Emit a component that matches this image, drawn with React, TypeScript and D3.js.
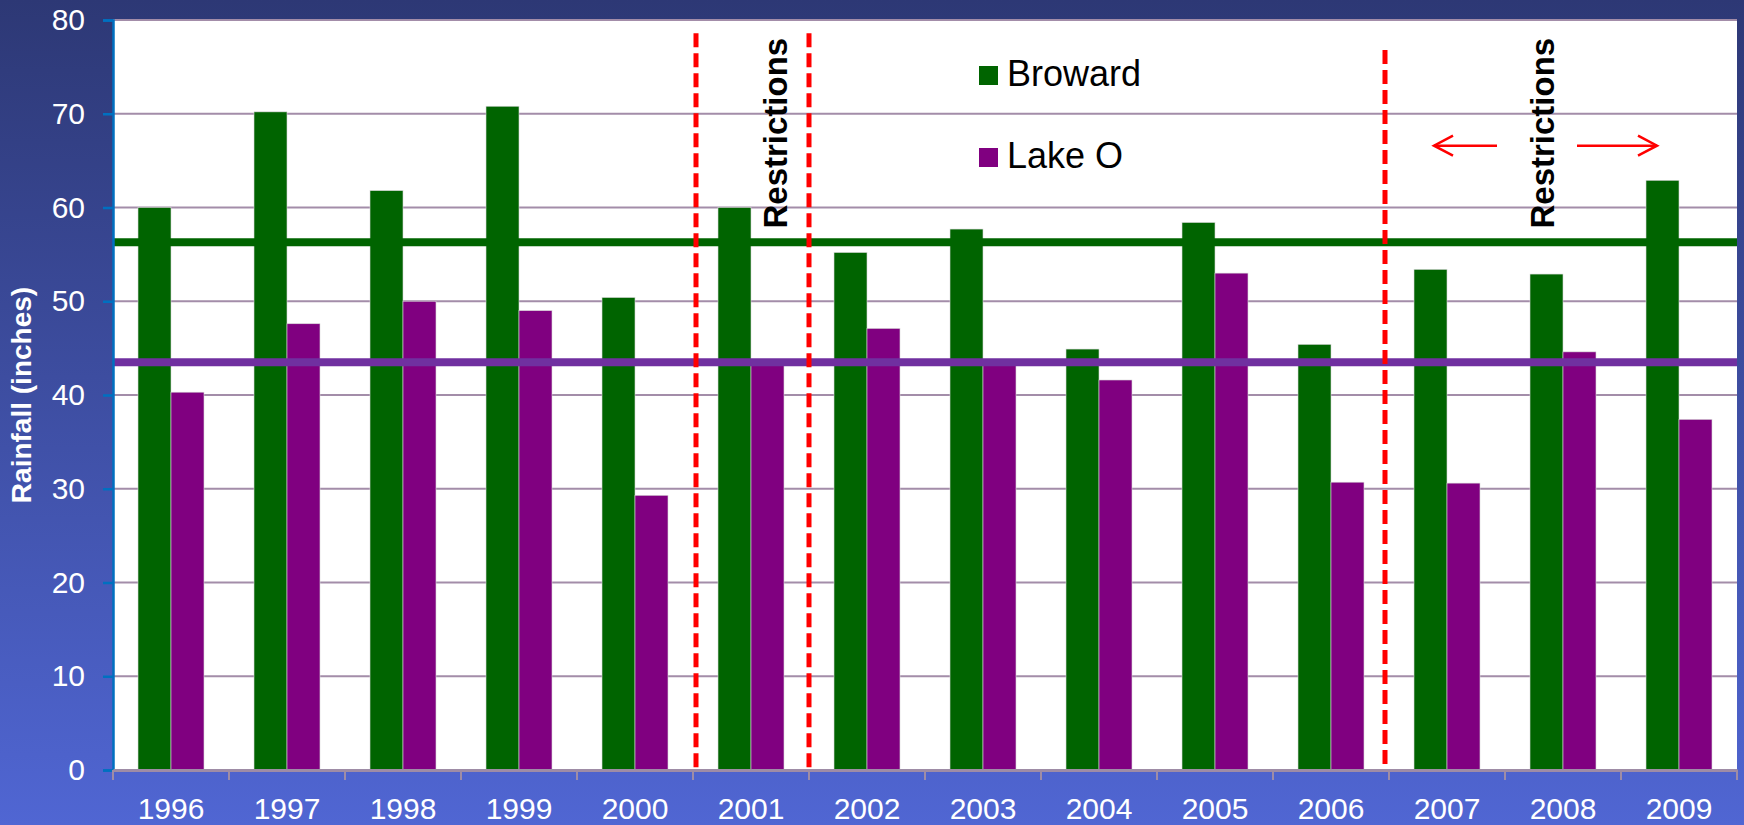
import React, { useEffect, useRef } from 'react';
import * as d3 from 'd3';

const years = ['1996', '1997', '1998', '1999', '2000', '2001', '2002', '2003', '2004', '2005', '2006', '2007', '2008', '2009'];
const broward = [60.0, 70.2, 61.8, 70.8, 50.4, 60.0, 55.2, 57.7, 44.9, 58.4, 45.4, 53.4, 52.9, 62.9];
const lakeO = [40.3, 47.6, 50.0, 49.0, 29.3, 43.8, 47.1, 43.6, 41.6, 53.0, 30.7, 30.6, 44.6, 37.4];
const averages = { broward: 56.3, lakeO: 43.5 };
const yTicks = [0, 10, 20, 30, 40, 50, 60, 70, 80];
// restriction boundaries sit at the start of these years
const restrictionStarts = ['2001', '2002', '2007'];

const seriesNames = ['Broward', 'Lake O'];
const colors: Record<string, string> = { Broward: '#006400', 'Lake O': '#800080' };

const App: React.FC = () => {
  const ref = useRef<SVGSVGElement | null>(null);

  useEffect(() => {
    const svg = d3.select(ref.current);
    svg.selectAll('*').remove();

    const W = 1744;
    const H = 825;
    const margin = { top: 20, right: 7, bottom: 55, left: 113 };
    const width = W - margin.left - margin.right;
    const height = H - margin.top - margin.bottom;
    const font = "'Liberation Sans', Arial, sans-serif";

    // background gradient
    const defs = svg.append('defs');
    const grad = defs
      .append('linearGradient')
      .attr('id', 'bg')
      .attr('x1', 0)
      .attr('y1', 0)
      .attr('x2', 0)
      .attr('y2', 1);
    grad.append('stop').attr('offset', '0%').attr('stop-color', '#2D3875');
    grad.append('stop').attr('offset', '100%').attr('stop-color', '#5066D3');
    svg.append('rect').attr('width', W).attr('height', H).attr('fill', 'url(#bg)');

    const g = svg.append('g').attr('transform', `translate(${margin.left},${margin.top})`);

    const x0 = d3.scaleBand().domain(years).range([0, width]).padding(0);
    const x1 = d3
      .scaleBand()
      .domain(seriesNames)
      .range([0, x0.bandwidth()])
      .paddingInner(0)
      .paddingOuter(0.758);
    const y = d3.scaleLinear().domain([0, 80]).range([height, 0]);

    // plot area
    g.append('rect').attr('width', width).attr('height', height).attr('fill', '#ffffff');

    // grid lines
    g.selectAll('.grid')
      .data(yTicks.filter((t) => t > 0))
      .enter()
      .append('line')
      .attr('x1', 0)
      .attr('x2', width)
      .attr('y1', (d) => y(d))
      .attr('y2', (d) => y(d))
      .attr('stroke', '#A38DA9')
      .attr('stroke-width', 2);

    // bars
    const rows = years.map((yr, i) => ({ year: yr, Broward: broward[i], 'Lake O': lakeO[i] }));
    const groups = g
      .selectAll('.grp')
      .data(rows)
      .enter()
      .append('g')
      .attr('transform', (d) => `translate(${x0(d.year)},0)`);
    groups
      .selectAll('rect')
      .data((d) => seriesNames.map((k) => ({ key: k, value: (d as any)[k] as number })))
      .enter()
      .append('rect')
      .attr('x', (d) => x1(d.key)!)
      .attr('y', (d) => y(d.value))
      .attr('width', x1.bandwidth())
      .attr('height', (d) => height - y(d.value))
      .attr('fill', (d) => colors[d.key])
      .attr('stroke', '#d8d8d8')
      .attr('stroke-width', 0.6);

    // average lines
    g.append('line')
      .attr('x1', 0)
      .attr('x2', width)
      .attr('y1', y(averages.broward))
      .attr('y2', y(averages.broward))
      .attr('stroke', '#006400')
      .attr('stroke-width', 8);
    g.append('line')
      .attr('x1', 0)
      .attr('x2', width)
      .attr('y1', y(averages.lakeO))
      .attr('y2', y(averages.lakeO))
      .attr('stroke', '#7030A0')
      .attr('stroke-width', 8);

    // restriction dashed lines
    const tops = [78.6, 78.6, 76.8];
    restrictionStarts.forEach((yr, i) => {
      const xx = x0(yr)! + (i === 0 ? 3 : i === 2 ? -4 : 0);
      g.append('line')
        .attr('x1', xx)
        .attr('x2', xx)
        .attr('y1', y(tops[i]))
        .attr('y2', height)
        .attr('stroke', '#FF0000')
        .attr('stroke-width', 5)
        .attr('stroke-dasharray', '14,6');
    });

    // Restrictions labels
    const label = (xx: number) =>
      g
        .append('text')
        .attr('transform', `translate(${xx},${y(78.1)}) rotate(-90)`)
        .attr('text-anchor', 'end')
        .attr('font-family', font)
        .attr('font-weight', 'bold')
        .attr('font-size', 33)
        .attr('fill', '#000')
        .text('Restrictions');
    label(x0('2001')! + 94);
    label(x0('2008')! + 49);

    // arrows
    const arrowY = y(66.6);
    const arrow = (from: number, to: number) => {
      const dir = to > from ? 1 : -1;
      g.append('line')
        .attr('x1', from)
        .attr('x2', to)
        .attr('y1', arrowY)
        .attr('y2', arrowY)
        .attr('stroke', '#FF0000')
        .attr('stroke-width', 2.5);
      g.append('path')
        .attr('d', `M${to - dir * 19},${arrowY - 10} L${to},${arrowY} L${to - dir * 19},${arrowY + 10}`)
        .attr('fill', 'none')
        .attr('stroke', '#FF0000')
        .attr('stroke-width', 2.5);
    };
    arrow(x0('2007')! + 108, x0('2007')! + 45);
    arrow(x0('2008')! + 72, x0('2008')! + 152);

    // legend
    const legend = g.append('g').attr('transform', `translate(${x0('2003')! + 54},${46})`);
    seriesNames.forEach((name, i) => {
      const row = legend.append('g').attr('transform', `translate(0,${i * 82})`);
      row.append('rect').attr('width', 19).attr('height', 19).attr('fill', colors[name]);
      row
        .append('text')
        .attr('x', 28)
        .attr('y', 20)
        .attr('font-family', font)
        .attr('font-size', 36)
        .attr('fill', '#000')
        .text(name);
    });

    // y axis
    const yAxis = g.append('g').call(d3.axisLeft(y).tickValues(yTicks).tickSize(10).tickPadding(18));
    yAxis.select('.domain').attr('stroke', '#0070C0').attr('stroke-width', 2.5);
    yAxis.selectAll('.tick line').attr('stroke', '#0070C0').attr('stroke-width', 2.5);
    yAxis
      .selectAll('.tick text')
      .attr('fill', '#ffffff')
      .attr('font-family', font)
      .attr('font-size', 30);

    // x axis
    const xAxis = g
      .append('g')
      .attr('transform', `translate(0,${height})`)
      .call(d3.axisBottom(x0).tickSize(0).tickPadding(28));
    xAxis.select('.domain').attr('stroke', '#9E8CA6').attr('stroke-width', 3);
    xAxis
      .selectAll('.tick text')
      .attr('fill', '#ffffff')
      .attr('font-family', font)
      .attr('font-size', 30);
    xAxis
      .selectAll('.sep')
      .data(d3.range(years.length + 1))
      .enter()
      .append('line')
      .attr('x1', (d) => d * x0.step())
      .attr('x2', (d) => d * x0.step())
      .attr('y1', 0)
      .attr('y2', 10)
      .attr('stroke', '#9E8CA6')
      .attr('stroke-width', 2);

    // y label
    svg
      .append('text')
      .attr('transform', `translate(31,${margin.top + y(40)}) rotate(-90)`)
      .attr('text-anchor', 'middle')
      .attr('font-family', font)
      .attr('font-weight', 'bold')
      .attr('font-size', 28)
      .attr('fill', '#ffffff')
      .text('Rainfall (inches)');
  }, []);

  return (
    <svg
      ref={ref}
      width={1744}
      height={825}
      style={{ position: 'absolute', left: 0, top: 0, display: 'block' }}
    ></svg>
  );
};

export default App;
